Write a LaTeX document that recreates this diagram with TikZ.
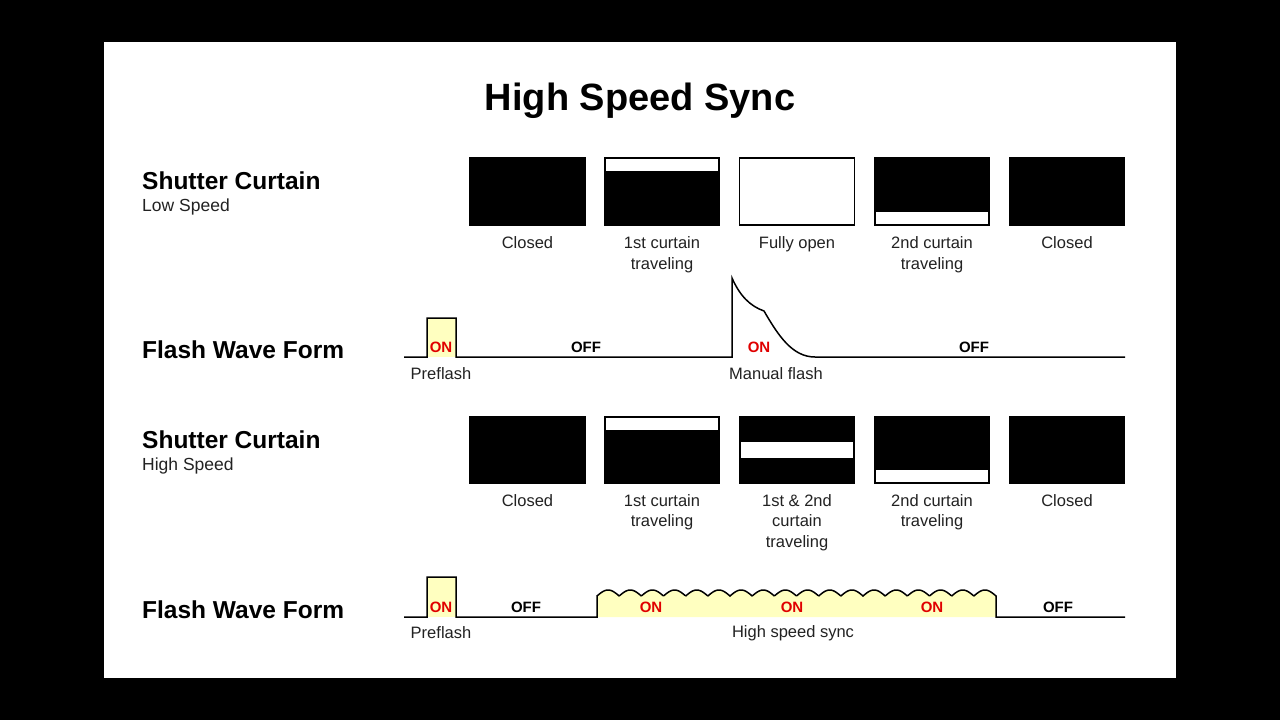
\documentclass[tikz,border=0pt]{standalone}
\usepackage{fontspec}
\setmainfont{Liberation Sans}
\usepackage{xcolor}
\usetikzlibrary{positioning}
\definecolor{flashyellow}{HTML}{FFFFC0}
\definecolor{onred}{HTML}{E00000}
\definecolor{labelgray}{HTML}{222222}

\begin{document}
\begin{tikzpicture}[x=1pt, y=-1pt,
    every node/.style={inner sep=0pt, text=labelgray},
    shutter/.style={draw=black, fill=black, line width=1.3pt, minimum width=115pt, minimum height=67pt},
    strip/.style={fill=white},
    caption/.style={font=\fontsize{16.5}{20.5}\selectfont, align=center},
    rowtitle/.style={font=\fontsize{24.5}{28}\selectfont\bfseries, text=black, anchor=west},
    rowsub/.style={font=\fontsize{17.5}{20}\selectfont, anchor=west},
    onlbl/.style={font=\fontsize{15}{17}\selectfont\bfseries, text=onred},
    offlbl/.style={font=\fontsize{15}{17}\selectfont\bfseries, text=black},
    wave/.style={line width=1.5pt, line join=miter}]
    % Frame
    \fill[black] (0,0) rectangle (1280,720);
    \fill[white] (104,42) rectangle (1176,678);
    \path[use as bounding box] (0,0) rectangle (1280,720);

    % Title
    \node[font=\fontsize{38}{44}\selectfont\bfseries, text=black] (title) at (640,101) {High Speed Sync};

    % Row labels
    \node[rowtitle] (sc1) at (142,181) {Shutter Curtain};
    \node[rowsub, below=8pt of sc1.south west, anchor=north west] (sc1s) {Low Speed};
    \node[rowtitle] (fw1) at (142,350) {Flash Wave Form};
    \node[rowtitle] (sc2) at (142,440) {Shutter Curtain};
    \node[rowsub, below=8pt of sc2.south west, anchor=north west] (sc2s) {High Speed};
    \node[rowtitle] (fw2) at (142,610) {Flash Wave Form};

    % Shutter, low speed
    \foreach \i/\x in {1/527.5,2/662,3/797,4/932,5/1067}{
        \node[shutter] (lo\i) at (\x,191.5) {};
        \node[shutter] (hi\i) at (\x,450) {};
    }
    \fill[strip] ([shift={(2,2)}]lo2.north west) rectangle ([shift={(-2,14)}]lo2.north east);
    \node[shutter, fill=white] at (lo3) {};
    \fill[strip] ([shift={(2,-14)}]lo4.south west) rectangle ([shift={(-2,-2)}]lo4.south east);

    \node[caption, below=11pt of lo1] (lo1t) {Closed};
    \node[caption, below=11pt of lo2] (lo2t) {1st curtain\\traveling};
    \node[caption, below=11pt of lo3] (lo3t) {Fully open};
    \node[caption, below=11pt of lo4] (lo4t) {2nd curtain\\traveling};
    \node[caption, below=11pt of lo5] (lo5t) {Closed};

    % Shutter, high speed
    \fill[strip] ([shift={(2,2)}]hi2.north west) rectangle ([shift={(-2,14)}]hi2.north east);
    \fill[strip] ([shift={(2,-8)}]hi3.west) rectangle ([shift={(-2,8)}]hi3.east);
    \fill[strip] ([shift={(2,-14)}]hi4.south west) rectangle ([shift={(-2,-2)}]hi4.south east);

    \node[caption, below=10pt of hi1] (hi1t) {Closed};
    \node[caption, below=10pt of hi2] (hi2t) {1st curtain\\traveling};
    \node[caption, below=10pt of hi3] (hi3t) {1st \& 2nd\\curtain\\traveling};
    \node[caption, below=10pt of hi4] (hi4t) {2nd curtain\\traveling};
    \node[caption, below=10pt of hi5] (hi5t) {Closed};

    % Flash wave form, low speed
    \fill[flashyellow] (427,357) rectangle (456,318);
    \draw[wave] (404,357) -- (427,357) -- (427,318) -- (456,318) -- (456,357) -- (732,357)
        -- (732,278) .. controls (740,296) and (750,306) .. (764,311)
        .. controls (778,335) and (792,357) .. (815,357) -- (1125,357);
    \node[onlbl] (on1) at (441,347) {ON};
    \node[offlbl] (off1) at (586,347) {OFF};
    \node[onlbl] (on2) at (759,347) {ON};
    \node[offlbl] (off2) at (974,347) {OFF};
    \node[caption] (pre1) at (441,374) {Preflash};
    \node[caption] (man) at (776,374) {Manual flash};

    % Flash wave form, high speed sync
    \fill[flashyellow] (427,617) rectangle (456,577);
    \fill[flashyellow] (597,617) -- (597,596)
        -- plot[domain=0:399, samples=400] ({597+\x},{596-6*abs(sin(8.12*\x))}) -- (996,617) -- cycle;
    \draw[wave] (404,617) -- (427,617) -- (427,577) -- (456,577) -- (456,617) -- (597,617) -- (597,595)
        -- plot[domain=0:399, samples=400] ({597+\x},{596-6*abs(sin(8.12*\x))})
        -- (996,617) -- (1125,617);
    \node[onlbl] (on3) at (441,607) {ON};
    \node[offlbl] (off3) at (526,607) {OFF};
    \node[onlbl] (on4) at (651,607) {ON};
    \node[onlbl] (on5) at (792,607) {ON};
    \node[onlbl] (on6) at (932,607) {ON};
    \node[offlbl] (off4) at (1058,607) {OFF};
    \node[caption] (pre2) at (441,633) {Preflash};
    \node[caption] (hss) at (793,633) {High speed sync};
\end{tikzpicture}
\end{document}
